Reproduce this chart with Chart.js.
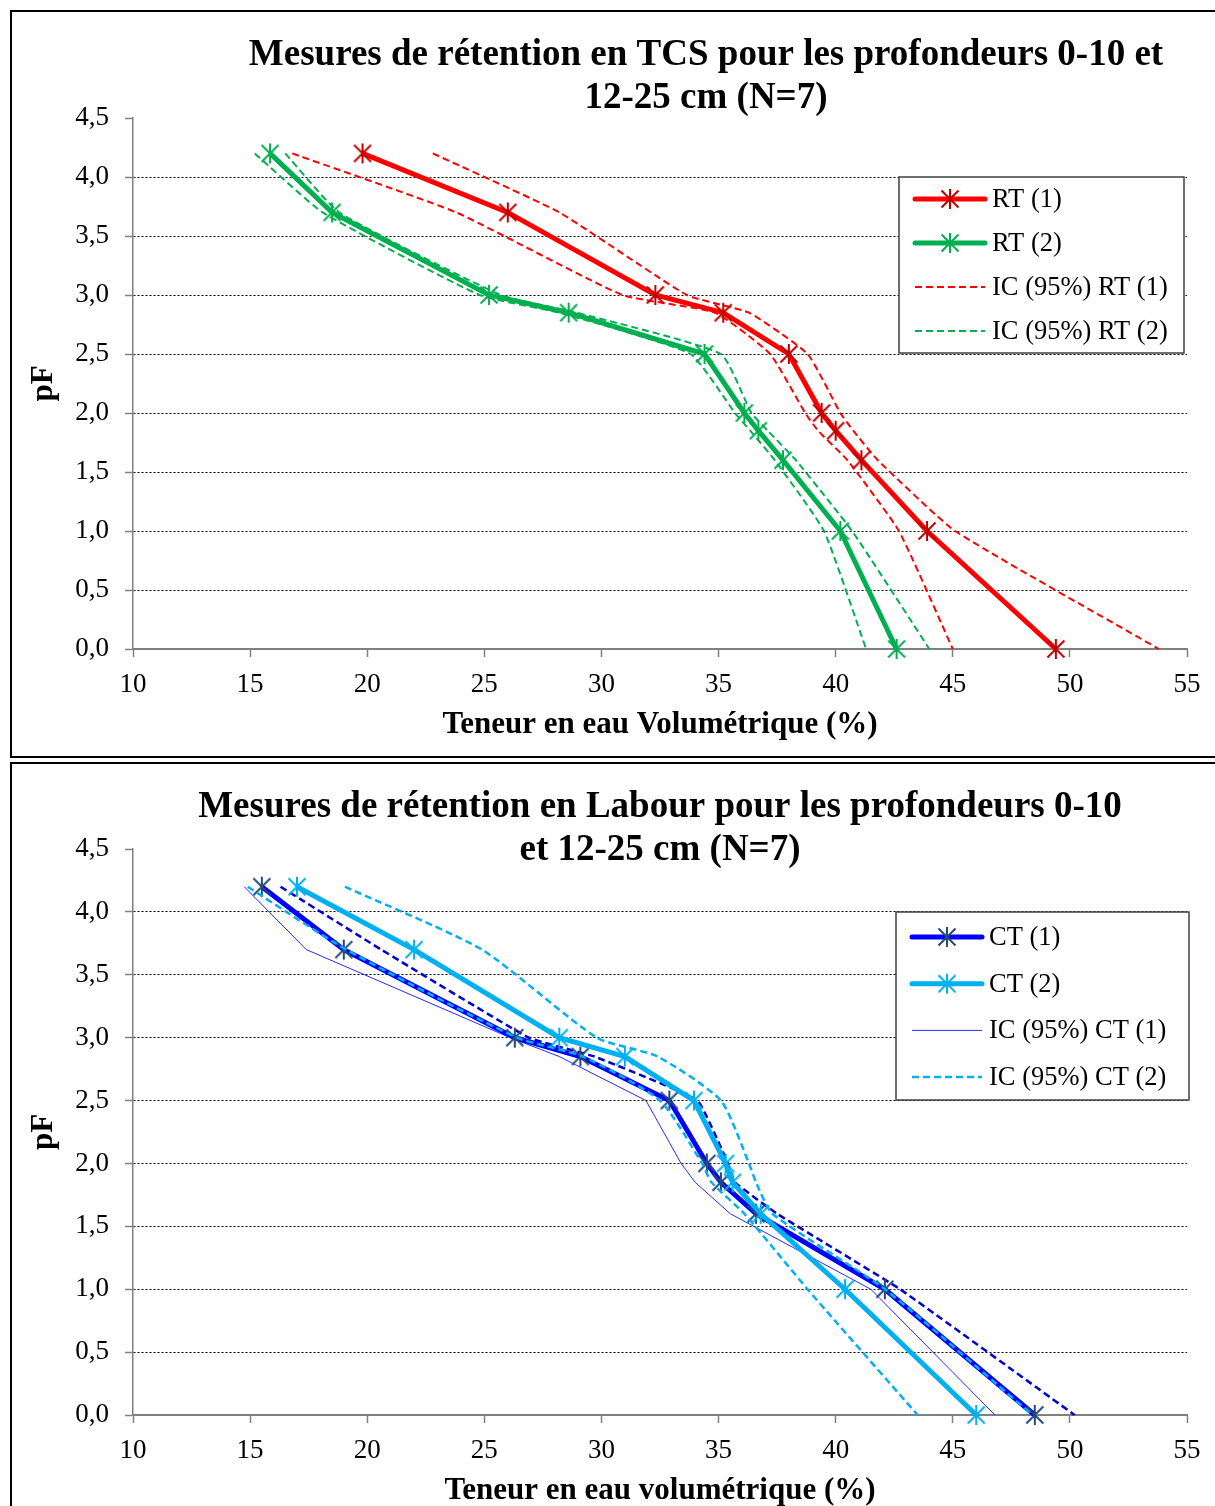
<!DOCTYPE html>
<html>
<head>
<meta charset="utf-8">
<script src="https://cdn.jsdelivr.net/npm/chart.js@4.4.1/dist/chart.umd.min.js"></script>
<style>
  html, body { margin: 0; padding: 0; background: #fff; overflow: hidden; width: 1215px; height: 1506px; }
  .box { position: absolute; border: 2px solid #000; background: #fff; }
  #box1 { left: 10px; top: 10px; width: 1210px; height: 744px; }
  #box2 { left: 10px; top: 762px; width: 1210px; height: 758px; }
  .box canvas { position: absolute; left: 0; top: 0; }
</style>
</head>
<body>
<div class="box" id="box1"><canvas id="chartTCS" width="1201" height="744"></canvas></div>
<div class="box" id="box2"><canvas id="chartLabour" width="1201" height="758"></canvas></div>
<script>
// pF levels (y) shared by every series
var pF = [4.2, 3.7, 3.0, 2.85, 2.5, 2.0, 1.85, 1.6, 1.0, 0.0];
var yTickLabels = ["0,0", "0,5", "1,0", "1,5", "2,0", "2,5", "3,0", "3,5", "4,0", "4,5"];

// TCS: water content (%)
var rt1 = [19.8, 26.0, 32.3, 35.2, 38.0, 39.4, 40.0, 41.1, 43.9, 49.4];
var rt1Low = [16.8, 23.8, 30.9, 34.85, 37.2, 38.7, 39.25, 40.5, 42.7, 45.0];
var rt1High = [22.8, 28.2, 33.65, 36.3, 38.8, 40.2, 40.75, 41.8, 45.1, 53.8];
var rt2 = [15.85, 18.5, 25.2, 28.6, 34.4, 36.1, 36.7, 37.75, 40.2, 42.6];
var rt2Low = [15.2, 18.1, 24.8, 28.2, 33.8, 35.7, 36.35, 37.4, 39.5, 41.3];
var rt2High = [16.5, 18.8, 25.7, 28.95, 35.1, 36.4, 37.1, 38.3, 40.7, 44.0];

// Labour: water content (%)
var ct1 = [15.5, 19.0, 26.3, 29.1, 32.9, 34.5, 35.1, 36.6, 42.1, 48.5];
var ct1Low = [14.75, 17.4, 26.1, 28.2, 31.9, 33.4, 34.0, 35.5, 41.5, 46.8];
var ct1High = [16.3, 20.6, 26.9, 29.7, 34.1, 35.4, 35.7, 37.5, 42.75, 50.2];
var ct2 = [17.0, 22.0, 28.2, 31.0, 33.95, 35.3, 35.6, 36.8, 40.4, 46.0];
var ct2Low = [14.9, 19.1, 26.4, 29.2, 32.5, 34.3, 34.7, 36.1, 38.8, 43.5];
var ct2High = [19.05, 24.9, 29.8, 32.4, 35.1, 36.3, 36.6, 37.3, 42.1, 48.4];

var titleTCS = ["Mesures de rétention en TCS pour les profondeurs 0-10 et", "12-25 cm (N=7)"];
var titleLabour = ["Mesures de rétention en Labour pour les profondeurs 0-10", "et 12-25 cm (N=7)"];

var SERIF = "'Liberation Serif', 'Times New Roman', serif";

function pts(xs) {
  return xs.map(function (x, i) { return { x: x, y: pF[i] }; });
}

// Excel-like asterisk marker
function asterisk(color) {
  var r = 10, s = 2 * r + 4, m = s / 2;
  var c = document.createElement("canvas");
  c.width = s; c.height = s;
  var g = c.getContext("2d");
  g.strokeStyle = color;
  g.lineWidth = 2;
  g.beginPath();
  g.moveTo(m, m - r); g.lineTo(m, m + r);
  g.moveTo(m - r * 0.85, m - r * 0.85); g.lineTo(m + r * 0.85, m + r * 0.85);
  g.moveTo(m + r * 0.85, m - r * 0.85); g.lineTo(m - r * 0.85, m + r * 0.85);
  g.stroke();
  return c;
}

function mainSet(label, xs, color, markerColor) {
  return {
    label: label, data: pts(xs), showLine: true, borderColor: color, borderWidth: 5,
    pointStyle: asterisk(markerColor), pointRadius: 10, tension: 0, clip: false
  };
}
function ciSet(label, xs, color, width, dash, tension) {
  return {
    label: label, data: pts(xs), showLine: true, borderColor: color, borderWidth: width,
    borderDash: dash, pointRadius: 0, tension: tension, clip: false
  };
}

var titlePlugin = {
  id: "boxTitle",
  afterDraw: function (chart, args, opts) {
    var ctx = chart.ctx;
    ctx.save();
    ctx.fillStyle = "#000";
    ctx.font = "bold 37px " + SERIF;
    ctx.textAlign = "center";
    ctx.textBaseline = "middle";
    opts.lines.forEach(function (t, i) { ctx.fillText(t, opts.x, 43 + i * 43); });
    ctx.restore();
  }
};

var legendPlugin = {
  id: "boxLegend",
  afterDraw: function (chart, args, opts) {
    var ctx = chart.ctx, b = opts.box;
    ctx.save();
    ctx.fillStyle = "#fff";
    ctx.fillRect(b.x, b.y, b.w, b.h);
    ctx.strokeStyle = "#404040";
    ctx.lineWidth = 1.5;
    ctx.strokeRect(b.x, b.y, b.w, b.h);
    opts.items.forEach(function (idx, i) {
      var ds = chart.data.datasets[idx];
      var y = b.y + opts.first + i * opts.step;
      var x0 = b.x + 16, x1 = x0 + 70;
      ctx.strokeStyle = ds.borderColor;
      ctx.lineWidth = ds.borderWidth;
      ctx.lineCap = ds.borderWidth > 3 ? "round" : "butt";
      ctx.setLineDash(ds.borderDash || []);
      ctx.beginPath();
      ctx.moveTo(x0, y); ctx.lineTo(x1, y);
      ctx.stroke();
      ctx.setLineDash([]);
      if (ds.pointRadius > 0) {
        var img = ds.pointStyle;
        ctx.drawImage(img, (x0 + x1) / 2 - img.width / 2, y - img.height / 2);
      }
      ctx.fillStyle = "#000";
      ctx.font = "26.5px " + SERIF;
      ctx.textAlign = "left";
      ctx.textBaseline = "middle";
      ctx.fillText(ds.label, x1 + 7, y + 1);
    });
    ctx.restore();
  }
};

function makeChart(id, datasets, cfg) {
  return new Chart(id, {
    type: "scatter",
    data: { datasets: datasets },
    plugins: [titlePlugin, legendPlugin],
    options: {
      responsive: false,
      animation: false,
      events: [],
      layout: { padding: { top: cfg.top, right: 26, left: 0, bottom: 0 } },
      plugins: {
        legend: { display: false },
        tooltip: { enabled: false },
        boxTitle: { lines: cfg.title, x: cfg.titleX },
        boxLegend: cfg.legend
      },
      scales: {
        x: {
          type: "linear", min: 10, max: 55,
          ticks: { stepSize: 5, color: "#000", font: { family: SERIF, size: 27 }, padding: 12 },
          grid: { drawOnChartArea: false, tickLength: 8, tickColor: "#808080", tickWidth: 1.5 },
          border: { color: "#808080", width: 2 },
          title: {
            display: true, text: cfg.xTitle, color: "#000",
            font: { family: SERIF, size: 31, weight: "bold" }, padding: { top: 4, bottom: 12 }
          },
          afterFit: function (s) { s.height = 107; }
        },
        y: {
          type: "linear", min: 0, max: 4.5,
          ticks: {
            stepSize: 0.5, color: "#000", font: { family: SERIF, size: 27 }, padding: 16,
            callback: function (v, i) { return yTickLabels[i]; }
          },
          grid: {
            color: function (c) {
              return c.tick && (c.tick.value > 4.4 || c.tick.value < 0.1) ? "rgba(0,0,0,0)" : "#000";
            },
            lineWidth: 1, tickLength: 8, tickColor: "#808080", tickWidth: 1.5
          },
          border: { color: "#808080", width: 1.5, dash: [2, 2] },
          title: {
            display: true, text: "pF", color: "#000",
            font: { family: SERIF, size: 31, weight: "bold" }, padding: { top: 13, bottom: 0 }
          },
          afterFit: function (s) { s.width = 121; }
        }
      }
    }
  });
}

makeChart("chartTCS", [
  mainSet("RT (1)", rt1, "#FF0000", "#C00000"),
  mainSet("RT (2)", rt2, "#00B050", "#00B050"),
  ciSet("IC (95%) RT (1)", rt1Low, "#FF0000", 2, [7, 4], 0.15),
  ciSet("IC (95%) RT (1)", rt1High, "#FF0000", 2, [7, 4], 0.15),
  ciSet("IC (95%) RT (2)", rt2Low, "#00B050", 2, [7, 4], 0.15),
  ciSet("IC (95%) RT (2)", rt2High, "#00B050", 2, [7, 4], 0.15)
], {
  top: 106,
  title: titleTCS, titleX: 694,
  xTitle: "Teneur en eau Volumétrique (%)",
  legend: { box: { x: 887, y: 165, w: 285, h: 176 }, first: 22, step: 44, items: [0, 1, 2, 4] }
});

makeChart("chartLabour", [
  mainSet("CT (2)", ct2, "#00B0F0", "#00B0F0"),
  ciSet("IC (95%) CT (2)", ct2Low, "#00B0F0", 2.5, [7, 4], 0.2),
  ciSet("IC (95%) CT (2)", ct2High, "#00B0F0", 2.5, [7, 4], 0.2),
  mainSet("CT (1)", ct1, "#0000FF", "#244A7A"),
  ciSet("IC (95%) CT (1)", ct1Low, "#2828FF", 1, [], 0),
  ciSet("IC (95%) CT (1)", ct1High, "#0000D0", 2.5, [7, 4], 0.1)
], {
  top: 85,
  title: titleLabour, titleX: 648,
  xTitle: "Teneur en eau volumétrique (%)",
  legend: { box: { x: 884, y: 148, w: 293, h: 188 }, first: 25, step: 46.7, items: [3, 0, 4, 1] }
});
</script>
</body>
</html>
